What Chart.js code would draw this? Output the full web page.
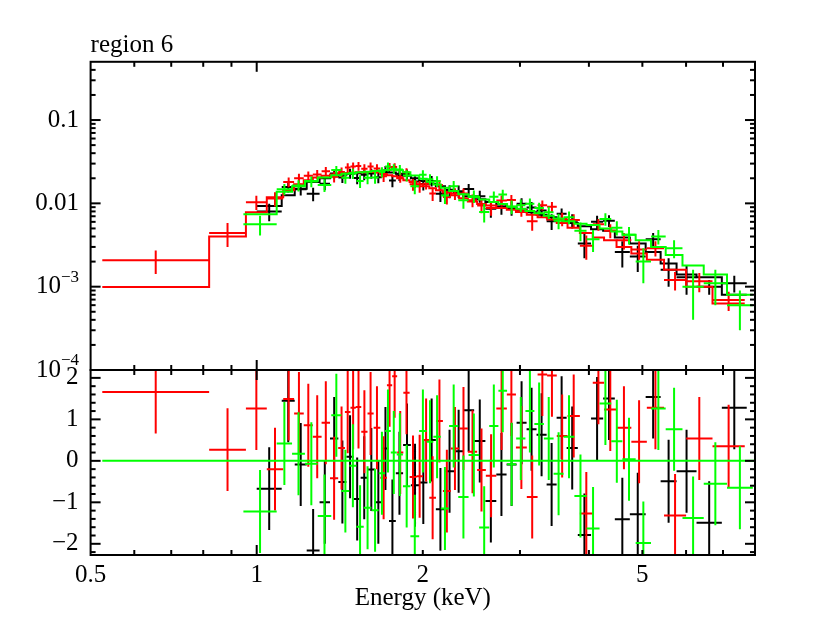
<!DOCTYPE html>
<html>
<head>
<meta charset="utf-8">
<script src="https://cdn.jsdelivr.net/npm/chart.js@4.4.1/dist/chart.umd.min.js"></script>
<style>
  html, body { margin: 0; padding: 0; background: #fff; }
  #wrap { position: relative; width: 830px; height: 617px; overflow: hidden; }
  #wrap canvas { position: absolute; left: 0; }
</style>
</head>
<body>
<div id="wrap">
  <canvas id="spec" width="830" height="392" style="top:0"></canvas>
  <canvas id="resid" width="830" height="257" style="top:360px"></canvas>
</div>
<script>
// region 6 spectrum: three data groups (black, red, green), folded model + residuals

const titleText = 'region 6';
const xTitle = 'Energy (keV)';
const xMin = 0.5, xMax = 8;
const xTickValues = [0.5, 0.6, 0.7, 0.8, 0.9, 1, 2, 3, 4, 5, 6, 7, 8];
const xTickLabels = ['0.5', '', '', '', '', '1', '2', '', '', '5', '', '', ''];
const xMajor = [1];

const specMin = 1e-4, specMax = 0.5;
const specMajor = [1e-4, 1e-3, 1e-2, 0.1];
const specMinor = [2e-4, 3e-4, 4e-4, 5e-4, 6e-4, 7e-4, 8e-4, 9e-4,
  2e-3, 3e-3, 4e-3, 5e-3, 6e-3, 7e-3, 8e-3, 9e-3,
  0.02, 0.03, 0.04, 0.05, 0.06, 0.07, 0.08, 0.09, 0.2, 0.3, 0.4];
const specLabelBase = ['10', '10', '0.01', '0.1'];
const specLabelSup = ['\u22124', '\u22123', '', ''];

const residMin = -2.27, residMax = 2.19;
const residMajor = [-2, -1, 0, 1, 2];
const residMinor = [-2.2, -1.8, -1.6, -1.4, -1.2, -0.8, -0.6, -0.4, -0.2,
  0.2, 0.4, 0.6, 0.8, 1.2, 1.4, 1.6, 1.8];

// black group
const blackEdges = [1.000, 1.110, 1.172, 1.232, 1.300, 1.358, 1.406, 1.454, 1.499, 1.543,
  1.590, 1.637, 1.686, 1.737, 1.787, 1.842, 1.903, 1.970, 2.039, 2.112,
  2.194, 2.279, 2.367, 2.478, 2.597, 2.718, 2.837, 2.958, 3.084, 3.215,
  3.353, 3.496, 3.645, 3.819, 4.036, 4.245, 4.457, 4.745, 5.069, 5.396,
  5.767, 6.268, 6.966, 7.729];
const blackRate = [.0080, .0157, .0148, .0130, .0172, .0228, .0205, .0229, .0201, .0221,
  .0229, .0206, .0248, .0188, .0217, .0225, .0183, .0171, .0186, .0130,
  .0140, .0140, .0149, .0122, .0086, .0091, .0088, .0099, .0089, .0082,
  .0061, .0075, .0062, .0033, .0060, .0062, .0026, .0023, .0037, .0016,
  .0013, .0010, .0011];
const blackErr = [.0019, .0022, .0024, .0024, .0028, .0029, .0030, .0031, .0031, .0032,
  .0032, .0032, .0032, .0032, .0031, .0030, .0029, .0028, .0027, .0026,
  .0025, .0024, .0022, .0020, .0019, .0018, .0017, .0016, .0015, .0014,
  .0013, .0012, .0012, .0011, .0011, .0010, .0009, .0008, .0007, .0006,
  .0005, .0002, .00025];
const blackModel = [.0093, .0125, .0150, .0180, .0200, .0212, .0220, .0226, .0230, .0234,
  .0236, .0238, .0238, .0234, .0226, .0214, .0200, .0186, .0172, .0160,
  .0146, .0134, .0122, .0112, .0104, .0097, .0090, .0084, .0078, .0073,
  .0068, .0063, .0058, .0053, .0049, .0047, .0039, .0033, .0026, .0019,
  .0014, .0013, .0008];
const blackResid = [-0.67, 1.45, -0.09, -2.16, -1.0, 0.54, -0.51, 0.1, -0.92, -0.41,
  -0.21, -1.0, 0.3, -1.45, -0.3, 0.38, -0.59, -0.52, 0.5, -1.17,
  -0.25, 0.23, 1.22, 0.48, -0.97, -0.33, -0.09, 0.92, 0.76, 0.63,
  -0.57, 1.04, 0.31, -1.79, 1.02, 1.5, -1.41, -1.29, 1.54, -0.49,
  -0.25, -1.49, 1.28];

// red group
const redEdges = [0.525, 0.820, 0.956, 1.043, 1.117, 1.169, 1.217, 1.264, 1.311, 1.358,
  1.405, 1.445, 1.479, 1.512, 1.547, 1.588, 1.629, 1.675, 1.722, 1.760,
  1.797, 1.844, 1.893, 1.947, 2.001, 2.055, 2.113, 2.175, 2.248, 2.327,
  2.414, 2.509, 2.602, 2.718, 2.840, 2.950, 3.087, 3.229, 3.360, 3.498,
  3.659, 3.852, 4.065, 4.261, 4.489, 4.775, 5.094, 5.473, 6.001, 6.700,
  7.665];
const redRate = [.00207, .0044, .0103, .0114, .0180, .0200, .0214, .0222, .0243, .0209,
  .0238, .0270, .0277, .0280, .0261, .0276, .0262, .0212, .0274, .0273,
  .0206, .0236, .0169, .0160, .0172, .0131, .0166, .0119, .0131, .0131,
  .0109, .0094, .0088, .0108, .0110, .0084, .0061, .0095, .0091, .0065,
  .0063, .0031, .0056, .0047, .0036, .0028, .0029, .0012, .00116, .00069];
const redErr = [.00065, .0014, .0020, .0022, .0024, .0026, .0028, .0029, .0030, .0031,
  .0032, .0032, .0033, .0033, .0033, .0033, .0033, .0032, .0031, .0030,
  .0029, .0028, .0027, .0026, .0025, .0024, .0023, .0022, .0021, .0020,
  .0019, .0018, .0017, .0016, .0016, .0015, .0014, .0013, .0013, .0012,
  .0011, .0010, .0009, .0009, .0008, .0007, .0006, .0003, .0003, .00018];
const redModel = [.00099, .0040, .0078, .0118, .0144, .0170, .0190, .0205, .0215, .0222,
  .0228, .0232, .0235, .0237, .0238, .0238, .0236, .0225, .0218, .0212,
  .0200, .0190, .0180, .0170, .0160, .0152, .0144, .0135, .0125, .0115,
  .0105, .0098, .0094, .0088, .0084, .0079, .0073, .0068, .0064, .0058,
  .0051, .0044, .0039, .0036, .0030, .0025, .0021, .0016, .0010, .00063];
const redResid = [1.66, 0.27, 1.26, -0.2, 1.49, 1.14, 0.86, 0.58, 0.92, -0.42,
  0.31, 1.18, 1.28, 1.30, 0.70, 1.14, 0.80, -0.41, 1.82, 2.04,
  0.2, 1.64, -0.39, -0.37, 0.5, -0.89, 0.96, -0.73, 0.3, 0.78,
  0.22, -0.22, -0.36, 1.26, 1.60, 0.32, -0.87, 2.08, 2.06, 0.6,
  1.08, -1.27, 1.88, 1.24, 0.80, 0.46, 1.28, -1.32, 0.54, 0.35];

// green group
const greenEdges = [0.946, 1.087, 1.159, 1.223, 1.290, 1.365, 1.424, 1.472, 1.516, 1.563,
  1.614, 1.664, 1.709, 1.750, 1.794, 1.841, 1.899, 1.970, 2.032, 2.090,
  2.156, 2.232, 2.319, 2.421, 2.530, 2.639, 2.742, 2.843, 2.953, 3.069,
  3.186, 3.315, 3.452, 3.599, 3.765, 3.961, 4.182, 4.391, 4.600, 4.862,
  5.184, 5.511, 5.911, 6.459, 7.117, 7.927];
const greenRate = [.0056, .0148, .0164, .0183, .0166, .0251, .0203, .0228, .0185, .0203,
  .0205, .0238, .0276, .0261, .0255, .0216, .0160, .0220, .0195, .0184,
  .0124, .0161, .0109, .0122, .0079, .0120, .0128, .0091, .0095, .0099,
  .0088, .0078, .0062, .0068, .0047, .0037, .0065, .0051, .0042, .0020,
  .0040, .0029, .0010, .0011, .0006];
const greenErr = [.0015, .0023, .0025, .0027, .0029, .0030, .0031, .0032, .0032, .0033,
  .0033, .0033, .0034, .0034, .0034, .0033, .0031, .0030, .0028, .0027,
  .0026, .0024, .0023, .0021, .0020, .0019, .0018, .0017, .0016, .0015,
  .0014, .0013, .0013, .0012, .0012, .0011, .0011, .0010, .0010, .0009,
  .0008, .0007, .0006, .0005, .0003];
const greenModel = [.0074, .0138, .0160, .0185, .0205, .0218, .0226, .0232, .0236, .0240,
  .0244, .0248, .0252, .0254, .0250, .0236, .0216, .0198, .0182, .0168,
  .0154, .0141, .0129, .0119, .0111, .0104, .0098, .0092, .0086, .0081,
  .0076, .0071, .0066, .0061, .0057, .0055, .0050, .0046, .0042, .0036,
  .0030, .0024, .0018, .0014, .0008];
const greenResid = [-1.22, 0.42, 0.17, -0.07, -1.33, 1.1, -0.73, -0.12, -1.59, -1.13,
  -1.19, -0.3, 0.72, 0.2, 0.15, -0.61, -1.82, 0.72, 0.46, 0.58,
  -1.15, 0.84, -0.87, 0.14, -1.61, 0.84, 1.69, -0.08, 0.54, 1.2,
  0.89, 0.54, -0.31, 0.58, -0.85, -1.63, 1.38, 0.47, 0.04, -1.98,
  1.26, 0.76, -1.38, -0.55, -0.65];

const FONT = "'Liberation Serif', 'Times New Roman', serif";
const FONT_SIZE = 25;
const AREA_LEFT = 90.6;
const AREA_RIGHT_PAD = 75;

// ---- helpers to turn bins into line point lists ----
function modelSteps(edges, model) {
  const pts = model.map((m, i) => ({ x: edges[i], y: m }));
  pts.push({ x: edges[edges.length - 1], y: model[model.length - 1] });
  return pts;
}

function hBars(edges, vals) {
  const pts = [];
  vals.forEach((v, i) => {
    pts.push({ x: edges[i], y: v }, { x: edges[i + 1], y: v }, { x: edges[i + 1], y: null });
  });
  return pts;
}

function vBars(edges, vals, errs, floor) {
  const pts = [];
  vals.forEach((v, i) => {
    const c = Math.sqrt(edges[i] * edges[i + 1]);
    const e = errs ? errs[i] : 1;
    pts.push({ x: c, y: Math.max(v - e, floor) }, { x: c, y: v + e }, { x: c, y: null });
  });
  return pts;
}

function lineSet(data, color, order, extra) {
  return Object.assign({
    data: data,
    borderColor: color,
    borderWidth: 2,
    pointRadius: 0,
    fill: false,
    tension: 0,
    spanGaps: false,
    clip: 0,
    order: order,
  }, extra || {});
}

const groups = [
  { color: '#000000', order: 3, edges: blackEdges, rate: blackRate, err: blackErr, model: blackModel, resid: blackResid },
  { color: '#ff0000', order: 2, edges: redEdges, rate: redRate, err: redErr, model: redModel, resid: redResid },
  { color: '#00ff00', order: 1, edges: greenEdges, rate: greenRate, err: greenErr, model: greenModel, resid: greenResid },
];

// inward tick marks + frame, drawn over the data
const framePlugin = {
  id: 'frame',
  afterDatasetsDraw(chart, args, opts) {
    const { ctx, chartArea: a, scales } = chart;
    const x = scales.x, y = scales.y;
    ctx.save();
    ctx.strokeStyle = '#000';
    ctx.lineWidth = 2;
    ctx.lineCap = 'butt';
    const seg = (x1, y1, x2, y2) => { ctx.beginPath(); ctx.moveTo(x1, y1); ctx.lineTo(x2, y2); ctx.stroke(); };
    xTickValues.forEach(v => {
      if (v <= xMin || v >= xMax) return;
      const px = x.getPixelForValue(v);
      const len = xMajor.includes(v) ? 10 : 5;
      seg(px, a.top, px, a.top + len);
      seg(px, a.bottom, px, a.bottom - len);
    });
    const yTick = (v, len) => {
      const py = y.getPixelForValue(v);
      if (py <= a.top + 0.5 || py >= a.bottom - 0.5) return;
      seg(a.left, py, a.left + len, py);
      seg(a.right, py, a.right - len, py);
    };
    opts.major.forEach(v => yTick(v, 10));
    opts.minor.forEach(v => yTick(v, 5));
    ctx.strokeRect(a.left, a.top, a.right - a.left, a.bottom - a.top);
    ctx.restore();
  }
};

// y labels of the spectrum panel (powers of ten need a raised exponent)
const specLabelPlugin = {
  id: 'specLabels',
  afterDraw(chart) {
    const { ctx, scales: { y } } = chart;
    ctx.save();
    ctx.fillStyle = '#000';
    ctx.textAlign = 'right';
    ctx.textBaseline = 'middle';
    specMajor.forEach((v, i) => {
      const py = y.getPixelForValue(v);
      let right = 79;
      if (specLabelSup[i]) {
        ctx.font = '17px ' + FONT;
        ctx.fillText(specLabelSup[i], right, py - 9);
        right -= ctx.measureText(specLabelSup[i]).width;
      }
      ctx.font = FONT_SIZE + 'px ' + FONT;
      ctx.fillText(specLabelBase[i], right, py);
    });
    ctx.restore();
  }
};

const specDatasets = [];
const residDatasets = [];
groups.forEach(g => {
  specDatasets.push(lineSet(modelSteps(g.edges, g.model), g.color, g.order, { stepped: 'before' }));
  specDatasets.push(lineSet(hBars(g.edges, g.rate), g.color, g.order));
  specDatasets.push(lineSet(vBars(g.edges, g.rate, g.err, 1e-6), g.color, g.order));
  residDatasets.push(lineSet(hBars(g.edges, g.resid), g.color, g.order));
  residDatasets.push(lineSet(vBars(g.edges, g.resid, null, -10), g.color, g.order));
});
residDatasets.push(lineSet([{ x: redEdges[0], y: 0 }, { x: xMax, y: 0 }], '#00ff00', 0));

const common = {
  responsive: false,
  animation: false,
  events: [],
  plugins: { legend: { display: false }, tooltip: { enabled: false } },
};

new Chart(document.getElementById('spec'), {
  type: 'line',
  data: { datasets: specDatasets },
  options: Object.assign({}, common, {
    layout: { padding: { left: AREA_LEFT, right: AREA_RIGHT_PAD, top: 30, bottom: 22 } },
    plugins: {
      legend: { display: false },
      tooltip: { enabled: false },
      title: {
        display: true, text: titleText, align: 'start', color: '#000',
        font: { family: FONT, size: FONT_SIZE, weight: 'normal', lineHeight: 1.2 },
        padding: { top: 0, bottom: 1.8 }
      },
      frame: { major: specMajor, minor: specMinor }
    },
    scales: {
      x: { type: 'logarithmic', min: xMin, max: xMax, display: false },
      y: { type: 'logarithmic', min: specMin, max: specMax, display: false }
    }
  }),
  plugins: [framePlugin, specLabelPlugin]
});

new Chart(document.getElementById('resid'), {
  type: 'line',
  data: { datasets: residDatasets },
  options: Object.assign({}, common, {
    layout: { padding: { left: 0, right: AREA_RIGHT_PAD, top: 10, bottom: 0 } },
    plugins: {
      legend: { display: false },
      tooltip: { enabled: false },
      frame: { major: residMajor, minor: residMinor }
    },
    scales: {
      x: {
        type: 'logarithmic', min: xMin, max: xMax,
        grid: { display: false, drawTicks: false },
        border: { display: false },
        afterBuildTicks: s => { s.ticks = xTickValues.map(v => ({ value: v })); },
        afterFit: s => { s.height = 62; s.paddingLeft = 0; s.paddingRight = 0; },
        ticks: {
          autoSkip: false, maxRotation: 0, padding: 5, color: '#000',
          font: { family: FONT, size: FONT_SIZE },
          callback: (v) => { const i = xTickValues.indexOf(v); return i >= 0 ? xTickLabels[i] : ''; }
        },
        title: {
          display: true, text: xTitle, color: '#000',
          font: { family: FONT, size: FONT_SIZE },
          padding: { top: 0, bottom: 4 }
        }
      },
      y: {
        type: 'linear', min: residMin, max: residMax,
        grid: { display: false, drawTicks: false },
        border: { display: false },
        afterBuildTicks: s => { s.ticks = residMajor.map(v => ({ value: v })); },
        afterFit: s => { s.width = AREA_LEFT; s.paddingTop = 0; s.paddingBottom = 0; },
        ticks: {
          padding: 12, color: '#000',
          font: { family: FONT, size: FONT_SIZE },
          callback: v => (v < 0 ? '\u2212' + Math.abs(v) : String(v))
        }
      }
    }
  }),
  plugins: [framePlugin]
});
</script>
</body>
</html>
